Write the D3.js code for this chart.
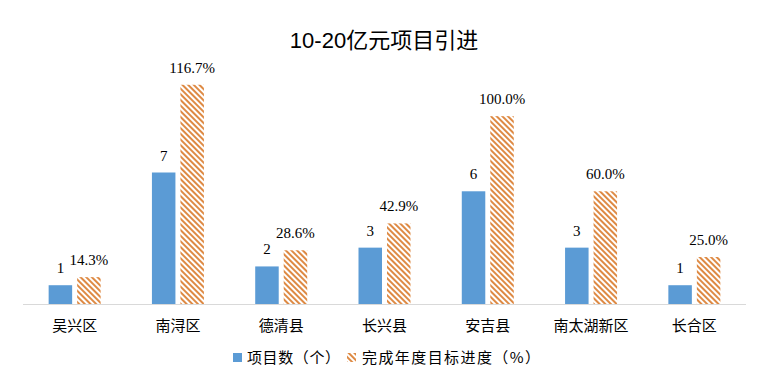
<!DOCTYPE html>
<html><head><meta charset="utf-8">
<script src="https://cdn.jsdelivr.net/npm/d3@7"></script>
<style>body{margin:0;background:#fff}</style>
</head><body>
<svg id="c" width="768" height="389"></svg>
<script>
const categories = ["吴兴区","南浔区","德清县","长兴县","安吉县","南太湖新区","长合区"];
const projectCounts = [1,7,2,3,6,3,1];
const progressPct = [14.3,116.7,28.6,42.9,100.0,60.0,25.0];
const seriesNames = ["项目数（个）","完成年度目标进度（%）"];
const titleText = "10-20亿元项目引进";

(function(){
const svg = d3.select("#c");
const blue = "#5B9BD5", orange = "#DE8A44";
const defs = svg.append("defs");
const pat = defs.append("pattern").attr("id","hatch").attr("patternUnits","userSpaceOnUse")
  .attr("width",4).attr("height",4).attr("patternTransform","rotate(-45)");
pat.append("rect").attr("width",4).attr("height",4).attr("fill","#fff");
pat.append("rect").attr("x",0).attr("y",0).attr("width",2).attr("height",4).attr("fill",orange);

const plotLeft = 23, plotRight = 746, base = 304, plotTop = 41;
const x = d3.scaleBand().domain(categories).range([plotLeft,plotRight]);
const yL = d3.scaleLinear().domain([0,14]).range([base,plotTop]);
const yR = d3.scaleLinear().domain([0,140]).range([base,plotTop]);
const bw = 23.5, gap = 5;

svg.append("text").attr("x",384).attr("y",48).attr("text-anchor","middle")
  .attr("font-family","Liberation Sans, 'Noto Sans CJK SC', sans-serif").attr("font-size",22)
  .attr("fill","#000").text(titleText);

svg.append("line").attr("x1",plotLeft).attr("x2",plotRight).attr("y1",base+0.5).attr("y2",base+0.5)
  .attr("stroke","#d9d9d9").attr("stroke-width",1);

const g = svg.append("g");
categories.forEach((c,i)=>{
  const cx = x(c)+x.bandwidth()/2;
  const bx = cx - gap/2 - bw, ox = cx + gap/2;
  g.append("rect").attr("x",bx).attr("y",yL(projectCounts[i])).attr("width",bw)
    .attr("height",base-yL(projectCounts[i])).attr("fill",blue);
  g.append("rect").attr("x",ox).attr("y",yR(progressPct[i])).attr("width",bw)
    .attr("height",base-yR(progressPct[i])).attr("fill","url(#hatch)");
  g.append("text").attr("x",bx+bw/2).attr("y",yL(projectCounts[i])-12).attr("text-anchor","middle")
    .attr("font-family","Liberation Serif, serif").attr("font-size",15).text(projectCounts[i]);
  g.append("text").attr("x",ox+bw/2).attr("y",yR(progressPct[i])-12).attr("text-anchor","middle")
    .attr("font-family","Liberation Serif, serif").attr("font-size",15).text(d3.format(".1f")(progressPct[i])+"%");
  g.append("text").attr("x",cx).attr("y",331).attr("text-anchor","middle")
    .attr("font-family","'Noto Sans CJK SC', sans-serif").attr("font-size",15).text(c);
});

const lg = svg.append("g").attr("font-family","'Noto Sans CJK SC', sans-serif").attr("font-size",15);
lg.append("rect").attr("x",233).attr("y",353).attr("width",9).attr("height",9).attr("fill",blue);
const t1 = lg.append("text").attr("x",247).attr("y",363).text(seriesNames[0]);
lg.append("rect").attr("x",347).attr("y",353).attr("width",9).attr("height",9).attr("fill","url(#hatch)");
const t2 = lg.append("text").attr("x",362).attr("y",363).text(seriesNames[1]);
t1.attr("textLength",93).attr("lengthAdjust","spacing");
t2.attr("textLength",178).attr("lengthAdjust","spacing");
})();
</script>
</body></html>
